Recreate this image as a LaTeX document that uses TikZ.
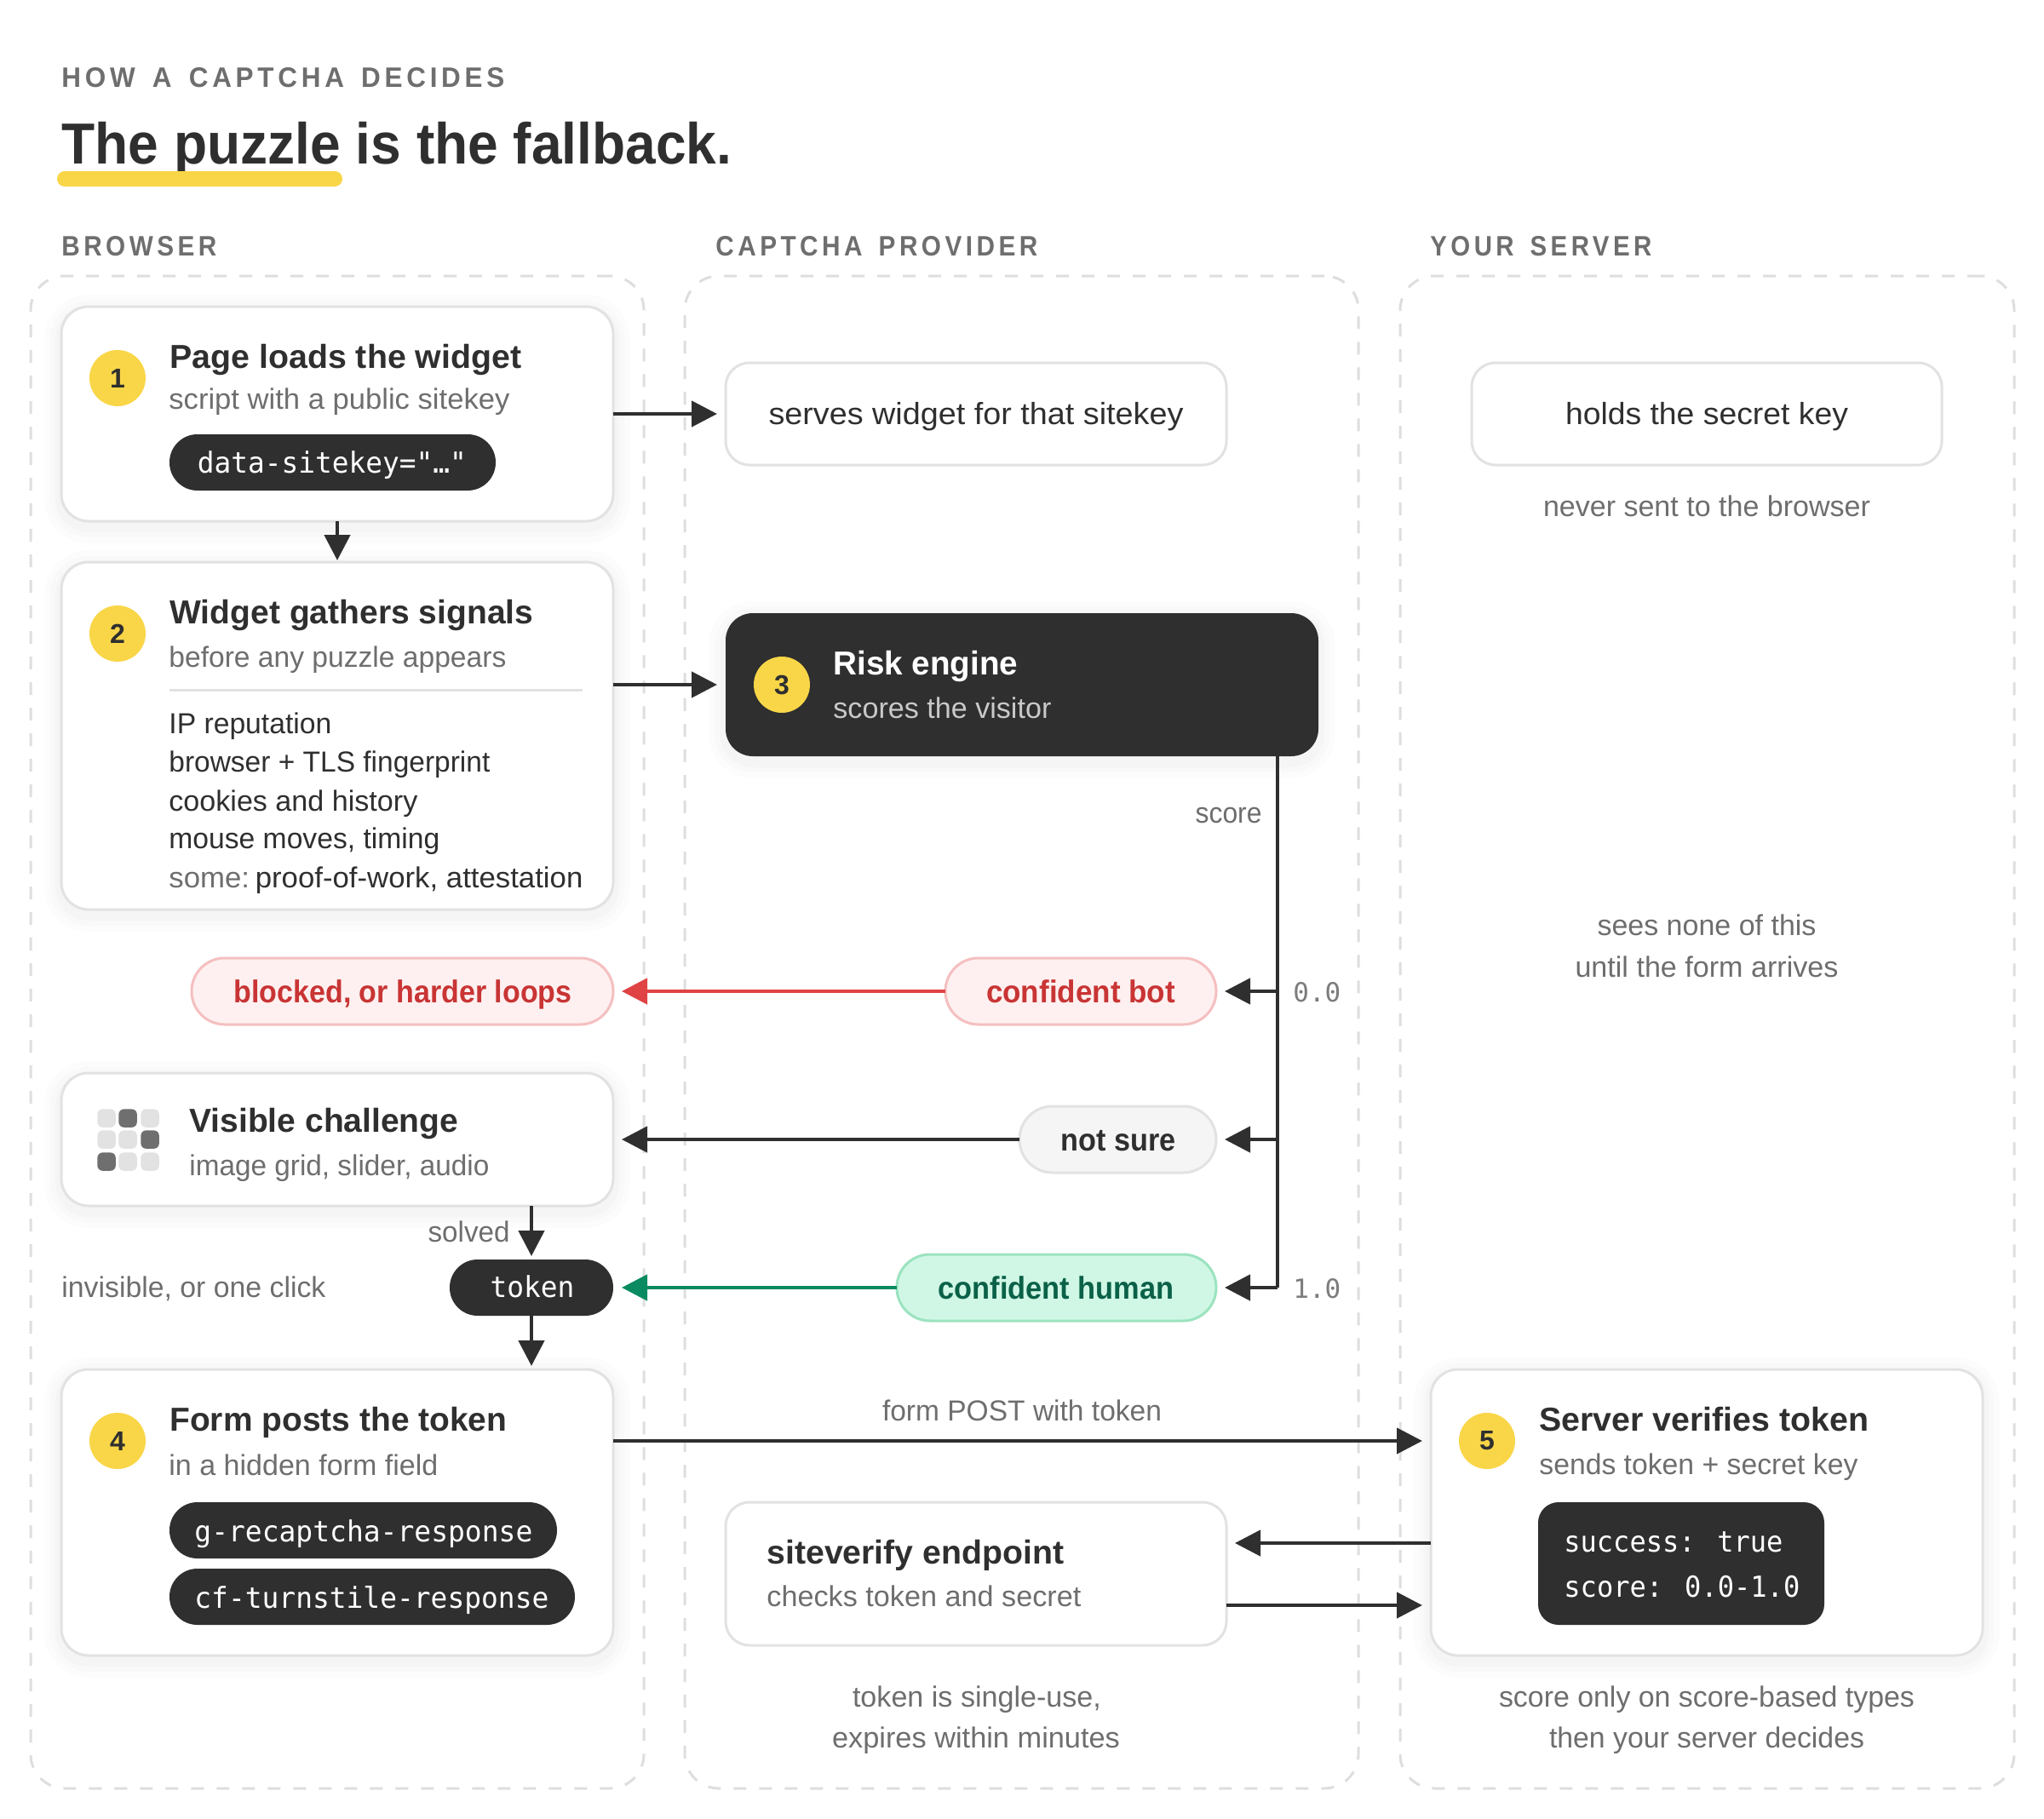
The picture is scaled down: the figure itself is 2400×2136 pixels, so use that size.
\documentclass[tikz,border=0pt]{standalone}
\usepackage{fontspec}
\usepackage{graphicx}
\usetikzlibrary{arrows.meta}
\setmainfont{Liberation Sans}
\newfontfamily\capsfont[LetterSpace=15,WordSpace=1.5]{Liberation Sans}
\newfontfamily\monofnt{DejaVu Sans Mono}
\definecolor{ink}{HTML}{2F2F2F}
\definecolor{graytxt}{HTML}{6E6E6E}
\definecolor{softtxt}{HTML}{C9C9C9}
\definecolor{edge}{HTML}{E2E2E2}
\definecolor{dashc}{HTML}{DEDEDE}
\definecolor{yel}{HTML}{F9D648}
\definecolor{redl}{HTML}{E04343}
\definecolor{redt}{HTML}{C93434}
\definecolor{redf}{HTML}{FEF0F0}
\definecolor{reds}{HTML}{F5BFC0}
\definecolor{grnl}{HTML}{0A8A60}
\definecolor{grnt}{HTML}{0A6148}
\definecolor{grnf}{HTML}{D0F7E5}
\definecolor{grns}{HTML}{9CE3C0}
\definecolor{cellL}{HTML}{E2E2E2}
\definecolor{cellD}{HTML}{6F6F6F}
\tikzset{
  softshadow/.style={
    preaction={draw=black,draw opacity=.012,line width=20pt,transform canvas={yshift=-3pt}},
    preaction={draw=black,draw opacity=.012,line width=13pt,transform canvas={yshift=-3pt}},
    preaction={draw=black,draw opacity=.014,line width=7pt,transform canvas={yshift=-3pt}}},
  panel/.style={draw=dashc,line width=1.5pt,dash pattern=on 7.5pt off 7.5pt,rounded corners=20pt},
  card/.style={softshadow,draw=edge,fill=white,line width=1.5pt,rounded corners=16pt},
  plain/.style={draw=edge,fill=white,line width=1.5pt,rounded corners=14pt},
  darkbox/.style={fill=ink,rounded corners=16pt},
  chip/.style={fill=ink,rounded corners=16.4pt},
  codebox/.style={fill=ink,rounded corners=12pt},
  pillred/.style={draw=reds,fill=redf,line width=1.5pt,rounded corners=19.4pt},
  pillgray/.style={draw=edge,fill=black!4,line width=1.5pt,rounded corners=19.4pt},
  pillgreen/.style={draw=grns,fill=grnf,line width=1.5pt,rounded corners=19.4pt},
  numdot/.style={circle,fill=yel,text=ink,inner sep=0pt,minimum size=33pt,font=\bfseries\fontsize{16}{18}\selectfont},
  eyebrow/.style={font=\capsfont\bfseries\fontsize{16.5}{18}\selectfont,text=graytxt},
  headline/.style={font=\bfseries\fontsize{34}{36}\selectfont,text=ink},
  ttl/.style={font=\bfseries\fontsize{19.5}{20}\selectfont,text=ink},
  ttlw/.style={font=\bfseries\fontsize{19.5}{20}\selectfont,text=white},
  sub/.style={font=\fontsize{17}{20}\selectfont,text=graytxt},
  subd/.style={font=\fontsize{17}{20}\selectfont,text=softtxt},
  body/.style={font=\fontsize{17}{20}\selectfont,text=ink},
  bodyl/.style={font=\fontsize{18}{20}\selectfont,text=ink},
  pilltxt/.style={font=\bfseries\fontsize{18.5}{20}\selectfont},
  mono/.style={font=\monofnt\fontsize{17}{20}\selectfont,text=white},
  monog/.style={font=\monofnt\fontsize{15.5}{20}\selectfont,text=graytxt!90},
  conn/.style={draw=ink,line width=2.3pt,-{Triangle[length=15pt,width=15pt]}},
  connr/.style={conn,draw=redl,-{Triangle[length=15pt,width=15pt,color=redl]}},
  conng/.style={conn,draw=grnl,-{Triangle[length=15pt,width=15pt,color=grnl]}},
  bare/.style={draw=ink,line width=2.3pt},
}
\newcommand\bx[6]{\node[#6,anchor=north west,inner sep=0pt,outer sep=0pt,minimum width={(#4-#2)*0.5pt},minimum height={(#5-#3)*0.5pt}] (#1) at (#2,#3) {};}
\newcommand\tx[7]{\pgfmathsetlengthmacro\fitw{#5*0.5pt}\node[anchor=#2,inner sep=0pt,#6] (#1) at (#3,#4) {\resizebox{\fitw}{\height}{#7}};}
\begin{document}
\begin{tikzpicture}[x=0.5pt,y=-0.5pt]
\useasboundingbox (0,0) rectangle (2400,2136);
\fill[white] (0,0) rectangle (2400,2136);
% headings
\tx{eyebrowT}{base west}{72}{102}{520}{eyebrow}{HOW A CAPTCHA DECIDES}
\tx{headT}{base west}{72}{192}{787}{headline}{The puzzle is the fallback.}
\bx{mark}{67}{201}{402}{219}{fill=yel,rounded corners=4.4pt}
\tx{colA}{base west}{72}{300}{182}{eyebrow}{BROWSER}
\tx{colB}{base west}{840}{300}{378}{eyebrow}{CAPTCHA PROVIDER}
\tx{colC}{base west}{1679}{300}{260}{eyebrow}{YOUR SERVER}
% panels
\bx{panA}{36}{324}{756}{2100}{panel}
\bx{panB}{804}{324}{1595}{2100}{panel}
\bx{panC}{1644}{324}{2365}{2100}{panel}
% cards
\bx{c1}{72}{360}{720}{612}{card}
\bx{c2}{72}{660}{720}{1068}{card}
\bx{vis}{72}{1260}{720}{1416}{card}
\bx{c4}{72}{1608}{720}{1944}{card}
\bx{c5}{1680}{1608}{2328}{1944}{card}
\bx{serve}{852}{426}{1440}{546}{plain}
\bx{hold}{1728}{426}{2280}{546}{plain}
\bx{verify}{852}{1764}{1440}{1932}{plain}
\bx{risk}{852}{720}{1548}{888}{darkbox,softshadow}
\bx{blocked}{225}{1125}{720}{1203}{pillred}
\bx{pbot}{1110}{1125}{1428}{1203}{pillred}
\bx{pmid}{1197}{1299}{1428}{1377}{pillgray}
\bx{phum}{1053}{1473}{1428}{1551}{pillgreen}
\bx{tokenP}{528}{1479}{720}{1545}{chip}
% number badges
\node[numdot] (n1) at (138,444) {1};
\node[numdot] (n2) at (138,744) {2};
\node[numdot] (n3) at (918,804) {3};
\node[numdot] (n4) at (138,1692) {4};
\node[numdot] (n5) at (1746,1692) {5};
% card 1
\tx{t1}{base west}{199}{432}{413}{ttl}{Page loads the widget}
\tx{s1}{base west}{198}{480}{400}{sub}{script with a public sitekey}
\bx{chip1}{199}{510}{582}{576}{chip}
\tx{m1}{base}{390}{555}{316}{mono}{data-sitekey="…"}
% card 2
\tx{t2}{base west}{199}{732}{427}{ttl}{Widget gathers signals}
\tx{s2}{base west}{198}{783}{396}{sub}{before any puzzle appears}
\coordinate (sepA) at (199,810);
\coordinate (sepB) at (684,810);
\draw[edge,line width=1.5pt] (sepA) -- (sepB);
\tx{l1}{base west}{198}{861}{191}{body}{IP reputation}
\tx{l2}{base west}{198}{906}{377}{body}{browser + TLS fingerprint}
\tx{l3}{base west}{198}{952}{292}{body}{cookies and history}
\tx{l4}{base west}{198}{996}{318}{body}{mouse moves, timing}
\tx{l5}{base west}{198}{1042}{486}{body}{{\color{graytxt}some:}\kern-3pt{} proof-of-work, attestation}
% provider
\tx{serveT}{base}{1146}{498}{487}{bodyl}{serves widget for that sitekey}
\tx{holdT}{base}{2004}{498}{332}{bodyl}{holds the secret key}
\tx{never}{base}{2004}{606}{384}{sub}{never sent to the browser}
\tx{t3}{base west}{978}{792}{217}{ttlw}{Risk engine}
\tx{s3}{base west}{978}{843}{256}{subd}{scores the visitor}
\tx{scoreL}{base east}{1482}{966}{78}{sub}{score}
\tx{sees1}{base}{2004}{1098}{257}{sub}{sees none of this}
\tx{sees2}{base}{2004}{1147}{309}{sub}{until the form arrives}
% pills
\tx{blockedT}{base}{473}{1177}{397}{pilltxt,text=redt}{blocked, or harder loops}
\tx{pbotT}{base}{1269}{1177}{222}{pilltxt,text=redt}{confident bot}
\tx{pmidT}{base}{1313}{1351}{135}{pilltxt,text=ink}{not sure}
\tx{phumT}{base}{1240}{1525}{277}{pilltxt,text=grnt}{confident human}
\tx{v00}{base west}{1518}{1176}{56}{monog}{0.0}
\tx{v10}{base west}{1518}{1524}{56}{monog}{1.0}
% visible challenge
\foreach \cx/\cy/\cc [count=\i] in {114/1302/cellL,139/1302/cellD,165/1302/cellL,114/1327/cellL,139/1327/cellL,165/1327/cellD,114/1353/cellD,139/1353/cellL,165/1353/cellL}{
  \node[fill=\cc,rounded corners=3pt,anchor=north west,inner sep=0pt,minimum size=10.7pt] (cell\i) at (\cx,\cy) {};
}
\tx{tv}{base west}{222}{1329}{316}{ttl}{Visible challenge}
\tx{sv}{base west}{222}{1380}{352}{sub}{image grid, slider, audio}
\tx{solved}{base east}{599}{1458}{96}{sub}{solved}
\tx{invis}{base west}{72}{1523}{310}{sub}{invisible, or one click}
\tx{tokenT}{base}{625}{1523}{99}{mono}{token}
% card 4
\tx{t4}{base west}{199}{1680}{396}{ttl}{Form posts the token}
\tx{s4}{base west}{198}{1732}{316}{sub}{in a hidden form field}
\bx{chip2}{199}{1764}{654}{1830}{chip}
\bx{chip3}{199}{1842}{675}{1908}{chip}
\tx{m2}{base west}{228}{1810}{397}{mono}{g-recaptcha-response}
\tx{m3}{base west}{228}{1888}{416}{mono}{cf-turnstile-response}
% middle bottom
\tx{postL}{base}{1200}{1668}{328}{sub}{form POST with token}
\tx{tv2}{base west}{900}{1836}{349}{ttl}{siteverify endpoint}
\tx{sv2}{base west}{900}{1886}{369}{sub}{checks token and secret}
\tx{n1a}{base}{1147}{2004}{292}{sub}{token is single-use,}
\tx{n1b}{base}{1146}{2052}{338}{sub}{expires within minutes}
% card 5
\tx{t5}{base west}{1807}{1680}{387}{ttl}{Server verifies token}
\tx{s5}{base west}{1807}{1731}{374}{sub}{sends token + secret key}
\bx{code}{1806}{1764}{2142}{1908}{codebox}
\tx{cd1}{base west}{1836}{1822}{257}{mono}{success: true}
\tx{cd2}{base west}{1836}{1875}{277}{mono}{score: 0.0-1.0}
\tx{n2a}{base}{2004}{2004}{488}{sub}{score only on score-based types}
\tx{n2b}{base}{2004}{2052}{370}{sub}{then your server decides}
% connectors
\coordinate (jtop) at (1500,888);
\coordinate (j1) at (1500,1164);
\coordinate (j2) at (1500,1338);
\coordinate (j3) at (1500,1512);
\coordinate (vA) at (0,1812);
\coordinate (vB) at (0,1885);
\draw[conn,shorten >=5pt] (c1.east) -- (serve.west);
\draw[conn,shorten >=1pt] (c1.south) -- (c2.north);
\draw[conn,shorten >=5pt] (c2.east |- risk.west) -- (risk.west);
\draw[bare] (jtop) -- (j3);
\draw[conn,shorten >=5pt] (j1) -- (pbot.east);
\draw[conn,shorten >=5pt] (j2) -- (pmid.east);
\draw[conn,shorten >=5pt] (j3) -- (phum.east);
\draw[connr,shorten >=5pt] (pbot.west) -- (blocked.east);
\draw[conn,shorten >=5pt] (pmid.west) -- (vis.east);
\draw[conng,shorten >=5pt] (phum.west) -- (tokenP.east);
\draw[conn,shorten >=2pt] (vis.south -| tokenP.north) -- (tokenP.north);
\draw[conn,shorten >=2pt] (tokenP.south) -- (c4.north -| tokenP.south);
\draw[conn,shorten >=5pt] (c4.east |- n5) -- (c5.west |- n5);
\draw[conn,shorten >=5pt] (c5.west |- vA) -- (verify.east |- vA);
\draw[conn,shorten >=5pt] (verify.east |- vB) -- (c5.west |- vB);
\end{tikzpicture}
\end{document}
